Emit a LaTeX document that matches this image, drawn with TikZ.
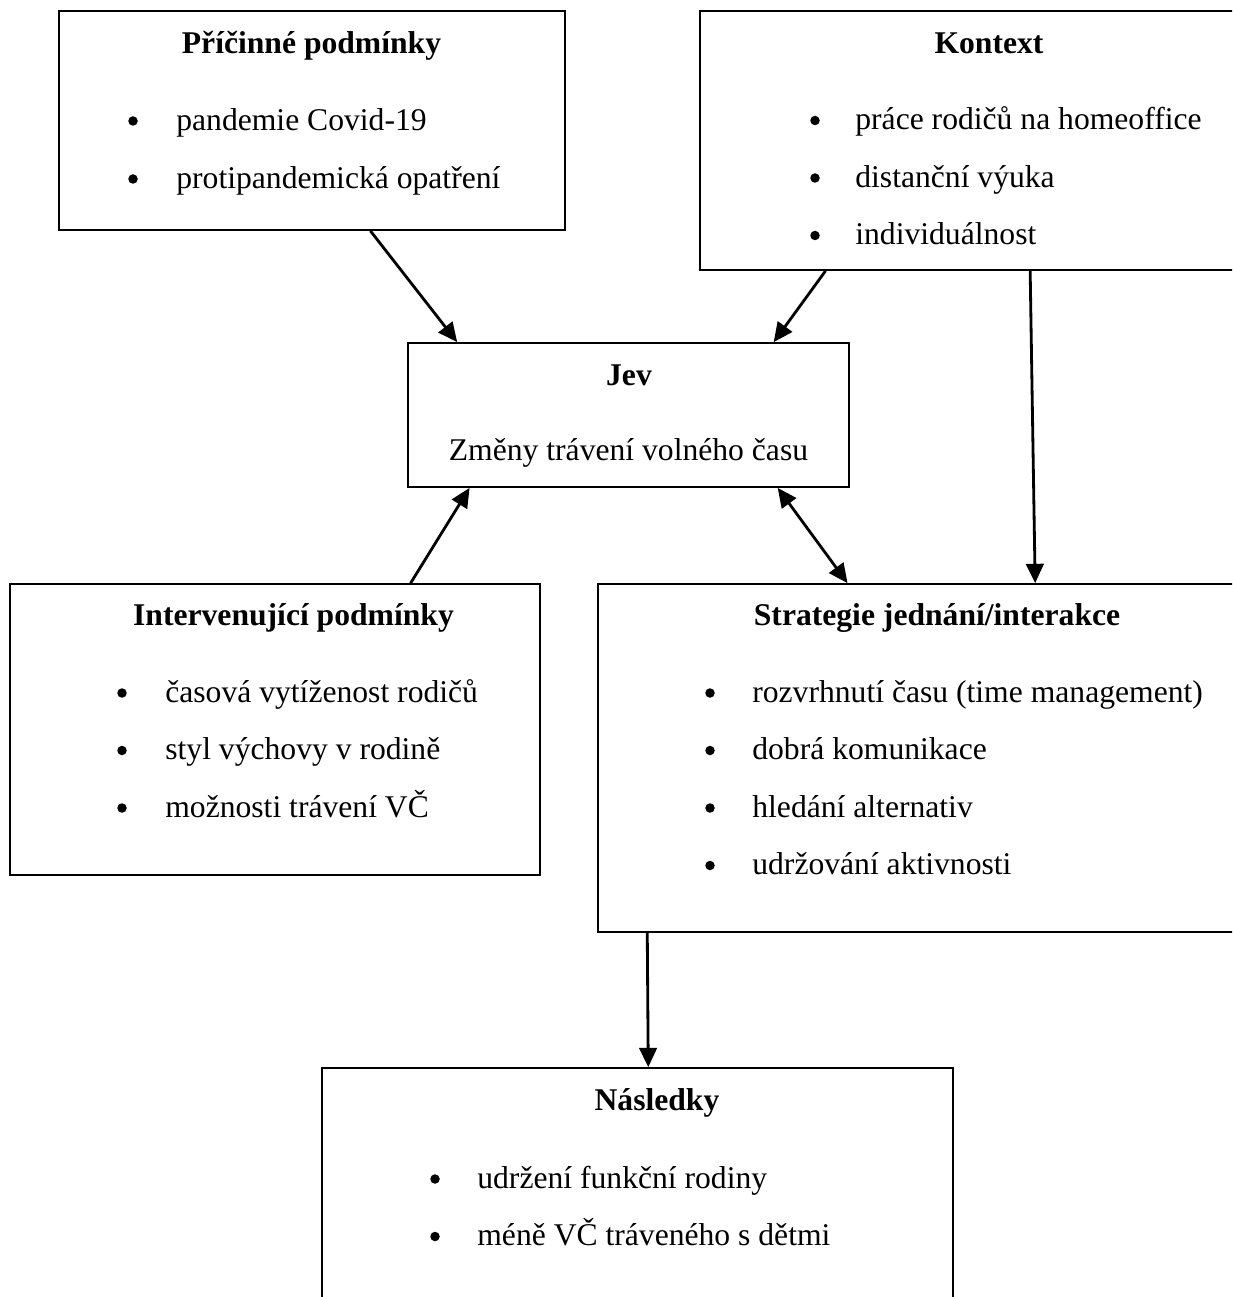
\documentclass[tikz,border=0pt]{standalone}
\usepackage{fontspec}
\setmainfont{Liberation Serif}
\usetikzlibrary{arrows.meta,calc}

\tikzset{
  box/.style={draw, rectangle, line width=1pt, inner sep=0pt},
  arr/.style={line width=1.6pt, -{Triangle[length=11pt,width=10pt]}},
  biarr/.style={line width=1.6pt, {Triangle[length=11pt,width=10pt]}-{Triangle[length=11pt,width=10pt]}},
  head/.style={font=\bfseries, anchor=mid, inner sep=0pt},
  item/.style={anchor=mid west, inner sep=0pt},
  dot/.style={circle, fill, inner sep=0pt, minimum size=0.19cm},
}

\begin{document}
\fontsize{18}{22}\selectfont
\begin{tikzpicture}[x=0.02cm, y=-0.02cm]
\useasboundingbox (0,0) rectangle (1232,1297);
\clip (0,0) rectangle (1232,1297);

% boxes
\node (pric) [box, minimum width=10.12cm, minimum height=4.38cm] at (312,120.5) {};
\node (kont) [box, minimum width=11.56cm, minimum height=5.18cm] at (989,140.5) {};
\node (jev) [box, minimum width=8.82cm, minimum height=2.88cm] at (628.5,415) {};
\node (interv) [box, minimum width=10.6cm, minimum height=5.82cm] at (275,729.5) {};
\node (strat) [box, minimum width=13.32cm, minimum height=6.96cm] at (931,758) {};
\node (nasl) [box, minimum width=12.62cm, minimum height=5.24cm] at (637.5,1199) {};

% titles
\node (prich) [head] at (311.5,46) {Příčinné podmínky};
\node (konth) [head] at (989,46) {Kontext};
\node (jevh) [head] at (629,378) {Jev};
\node (jevt) [anchor=mid, inner sep=0pt] at (628.5,453) {Změny trávení volného času};
\node (intervh) [head] at (293.5,618) {Intervenující podmínky};
\node (strath) [head] at (937,618) {Strategie jednání/interakce};
\node (naslh) [head] at (657,1103) {Následky};

% items
\foreach \t [count=\i] in {pandemie Covid-19, protipandemická opatření} {
  \node (pricb\i) [dot] at (133,63+58*\i) {};
  \node (prici\i) [item] at (176,65+58*\i) {\t};
}
\foreach \t [count=\i] in {práce rodičů na homeoffice, distanční výuka, individuálnost} {
  \node (kontb\i) [dot] at (815,63+57.5*\i) {};
  \node (konti\i) [item] at (855,65+57.5*\i) {\t};
}
\foreach \t [count=\i] in {časová vytíženost rodičů, styl výchovy v rodině, možnosti trávení VČ} {
  \node (intervb\i) [dot] at (122,635.5+57.5*\i) {};
  \node (intervi\i) [item] at (165,637.5+57.5*\i) {\t};
}
\foreach \t [count=\i] in {rozvrhnutí času (time management), dobrá komunikace, hledání alternativ, udržování aktivnosti} {
  \node (stratb\i) [dot] at (710,635.5+57.5*\i) {};
  \node (strati\i) [item] at (752,637.5+57.5*\i) {\t};
}
\foreach \t [count=\i] in {udržení funkční rodiny, méně VČ tráveného s dětmi} {
  \node (naslb\i) [dot] at (435,1121.5+57.5*\i) {};
  \node (nasli\i) [item] at (477,1123.5+57.5*\i) {\t};
}

% arrows
\draw [arr] ($(pric.south west)!0.615!(pric.south east)$) -- ($(jev.north west)!0.113!(jev.north east)$);
\draw [arr] ($(kont.south west)!0.218!(kont.south east)$) -- ($(jev.north west)!0.828!(jev.north east)$);
\draw [arr] ($(kont.south west)!0.571!(kont.south east)$) -- ($(strat.north west)!0.656!(strat.north east)$);
\draw [arr] ($(interv.north west)!0.755!(interv.north east)$) -- ($(jev.south west)!0.141!(jev.south east)$);
\draw [biarr] ($(jev.south west)!0.837!(jev.south east)$) -- ($(strat.north west)!0.375!(strat.north east)$);
\draw [arr] ($(strat.south west)!0.075!(strat.south east)$) -- ($(nasl.north west)!0.517!(nasl.north east)$);
\end{tikzpicture}
\end{document}
